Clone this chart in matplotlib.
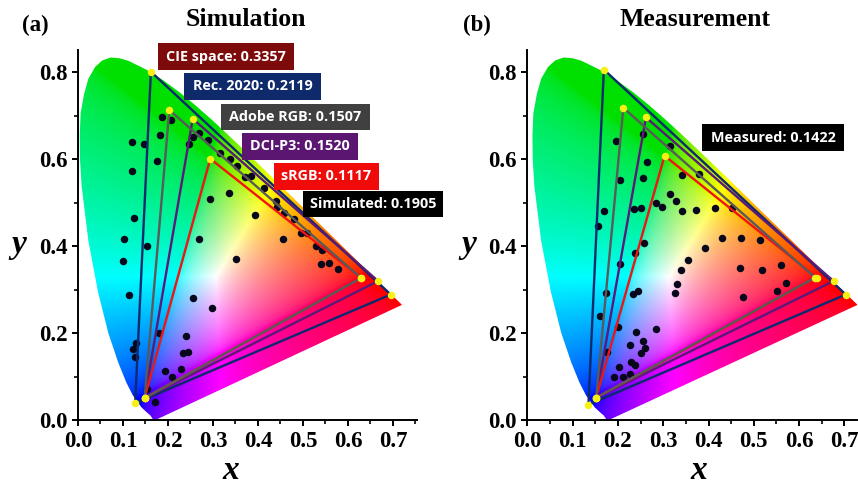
import matplotlib
matplotlib.use('Agg')
import matplotlib.pyplot as plt
import numpy as np
from matplotlib.patches import Polygon, Rectangle

W = 858
H = 487

# CIE 1931 spectral locus
locus_x = [.1741, .1733, .1714, .1644, .1566, .1440, .1241, .1096, .0913, .0687, .0454, .0235, .0082, .0045, .0039,
           .0060, .0139, .0235, .0389, .0551, .0743, .0943, .1142, .1547, .1929, .2296, .2658, .3016, .3373, .3731,
           .4087, .4441, .4788, .5125, .5448, .5752, .6029, .6270, .6658, .6915, .7079, .7190, .7260, .7347]
locus_y = [.0000, .0000, .0000, .0109, .0177, .0297, .0578, .0868, .1327, .2007, .2950, .4127, .5384, .6000, .6548,
           .7060, .7502, .7850, .8120, .8270, .8338, .8320, .8262, .8059, .7816, .7543, .7243, .6923, .6589, .6245,
           .5896, .5547, .5202, .4866, .4544, .4242, .3965, .3725, .3340, .3083, .2920, .2809, .2740, .2653]

# dots, panel a
sim_x = [.186, .207, .182, .119, .147, .246, .256, .268, .289, .315, .338, .354, .372, .384, .414, .440, .443,
         .458, .481, .496, .509, .529, .175, .119, .293, .335, .394, .124, .102, .153, .268, .455, .100, .113,
         .352, .539, .557, .577, .543, .255, .297, .179, .239, .129, .123, .127, .234, .244, .193, .229, .208,
         .171, .153]
sim_y = [.698, .689, .655, .639, .634, .636, .650, .660, .644, .614, .600, .585, .558, .562, .533, .505, .491,
         .477, .462, .431, .430, .401, .595, .572, .509, .522, .471, .464, .416, .401, .416, .416, .366, .287,
         .370, .359, .362, .348, .392, .280, .258, .200, .193, .177, .163, .146, .154, .158, .113, .119, .099,
         .042, .072]

# dots, panel b
meas_x = [.255, .196, .315, .264, .380, .341, .255, .204, .316, .329, .283, .298, .251, .236, .170, .341, .373,
          .414, .452, .157, .429, .472, .514, .257, .392, .238, .355, .204, .340, .469, .517, .561, .331, .325,
          .571, .551, .477, .245, .234, .174, .160, .201, .241, .285, .255, .227, .260, .251, .175, .230, .238,
          .202, .227, .191, .211]
meas_y = [.658, .643, .631, .593, .567, .564, .556, .552, .520, .503, .500, .490, .488, .485, .482, .480, .483,
          .488, .488, .447, .418, .418, .415, .408, .395, .385, .369, .359, .346, .351, .345, .357, .314, .293,
          .316, .297, .283, .298, .290, .293, .240, .214, .203, .209, .182, .173, .167, .155, .158, .133, .127,
          .123, .106, .099, .099]

# gamut triangles, (R, G, B) vertices
sim_rec2020 = [(.695, .289), (.162, .801), (.127, .039)]
sim_adobe = [(.629, .327), (.203, .713), (.148, .051)]
sim_p3 = [(.667, .320), (.255, .693), (.148, .051)]
sim_srgb = [(.629, .327), (.294, .601), (.148, .051)]

meas_rec2020 = [(.703, .289), (.169, .806), (.135, .036)]
meas_adobe = [(.635, .328), (.212, .718), (.152, .052)]
meas_p3 = [(.676, .320), (.262, .696), (.152, .052)]
meas_srgb = [(.639, .328), (.303, .608), (.152, .052)]

x_ticks = [0.0, 0.1, 0.2, 0.3, 0.4, 0.5, 0.6, 0.7]
y_ticks = [0.0, 0.2, 0.4, 0.6, 0.8]

labels_a = ['CIE space: 0.3357', 'Rec. 2020: 0.2119', 'Adobe RGB: 0.1507', 'DCI-P3: 0.1520', 'sRGB: 0.1117',
            'Simulated: 0.1905']
labels_b = ['Measured: 0.1422']

NAVY = '#0c2a6e'
GREY = '#5a5a5a'
PURPLE = '#5a1a78'
RED = '#f01414'
SERIF = 'Liberation Serif'

plt.rcParams['font.family'] = SERIF
plt.rcParams['font.weight'] = 'bold'

fig = plt.figure(figsize=(W / 100, H / 100), dpi=100)


def fx(px):
    return px / W


def fy(px):
    return 1 - px / H


def gamut_image(ax, scale, shift):
    # chromaticity colours, normalised to the brightest channel
    xs = np.linspace(0, 0.76, 500)
    ys = np.linspace(0, 0.86, 500)
    gx, gy = np.meshgrid(xs, ys)
    cx = (gx - shift) / scale
    cy = np.maximum(gy, 0.002)
    X = cx / cy
    Y = np.ones_like(cx)
    Z = (1 - cx - cy) / cy
    r = 3.2406 * X - 1.5372 * Y - 0.4986 * Z
    g = -0.9689 * X + 1.8758 * Y + 0.0415 * Z
    b = 0.0557 * X - 0.2040 * Y + 1.0570 * Z
    rgb = np.clip(np.dstack([r, g, b]), 0, None)
    rgb = rgb / rgb.max(axis=2, keepdims=True)
    rgb = rgb ** (1 / 2.0)
    # green corner of the reference is a bit darker than pure green
    rgb[:, :, 1] *= 1 - 0.12 * (1 - rgb[:, :, [0, 2]].max(axis=2))
    im = ax.imshow(rgb, origin='lower', extent=(0, 0.76, 0, 0.86), aspect='auto', zorder=1,
                   interpolation='bilinear')
    pts = np.column_stack([np.array(locus_x) * scale + shift, locus_y])
    poly = Polygon(pts, closed=True, transform=ax.transData, fc='none', ec='none')
    ax.add_patch(poly)
    im.set_clip_path(poly)


def draw_panel(rect, xmax, scale, shift, dots, triangles):
    left, right = rect
    top = 50
    bottom = 420.3
    ax = fig.add_axes([fx(left), fy(bottom), (right - left) / W, (bottom - top) / H])
    gamut_image(ax, scale, shift)
    ax.plot(dots[0], dots[1], 'o', color='#08081c', ms=5.4, mew=0, zorder=2)
    colors = [NAVY, PURPLE, RED, GREY]
    for tri, c in zip(triangles, colors):
        px = [p[0] for p in tri] + [tri[0][0]]
        py = [p[1] for p in tri] + [tri[0][1]]
        ax.plot(px, py, color=c, lw=1.7, zorder=3, solid_joinstyle='miter')
    for tri in triangles:
        ax.plot([p[0] for p in tri], [p[1] for p in tri], 'o', color='#f6f014', ms=5.4, mew=0, zorder=4,
                clip_on=False)
    ax.set_xlim(0, xmax)
    ax.set_ylim(0, 0.851)
    ax.spines['top'].set_visible(False)
    ax.spines['right'].set_visible(False)
    ax.spines['left'].set_linewidth(1.4)
    ax.spines['bottom'].set_linewidth(1.4)
    ax.set_xticks(x_ticks)
    ax.set_xticklabels(['%.1f' % v for v in x_ticks])
    ax.set_yticks(y_ticks)
    ax.set_yticklabels(['%.1f' % v for v in y_ticks])
    ax.set_xticks([v + 0.05 for v in x_ticks if v + 0.05 < xmax], minor=True)
    ax.set_yticks([0.1, 0.3, 0.5, 0.7], minor=True)
    ax.tick_params(which='major', length=4.5, width=1.4, labelsize=16.5, pad=3)
    ax.tick_params(which='minor', length=3, width=1.2)
    return ax


ax_a = draw_panel((78, 416.7), 0.7527, 0.98, 0.0, (sim_x, sim_y),
                  [sim_rec2020, sim_p3, sim_srgb, sim_adobe])
ax_b = draw_panel((527.3, 857), 0.7278, 0.982, 0.0075, (meas_x, meas_y),
                  [meas_rec2020, meas_p3, meas_srgb, meas_adobe])

for ax, xpx, ypx in [(ax_a, 231, 479), (ax_b, 699, 479)]:
    ax.set_xlabel('x', fontsize=24, style='italic', weight='bold', va='baseline')
    ax.xaxis.set_label_coords(fx(xpx), fy(ypx), transform=fig.transFigure)

for ax, xpx, ypx in [(ax_a, 19, 244), (ax_b, 469, 244)]:
    ax.set_ylabel('y', fontsize=24, style='italic', weight='bold', rotation=0, ha='center', va='center')
    ax.yaxis.set_label_coords(fx(xpx), fy(ypx), transform=fig.transFigure)

fig.text(fx(246), fy(20), 'Simulation', fontsize=18.5, ha='center', va='center')
fig.text(fx(695), fy(20), 'Measurement', fontsize=18.5, ha='center', va='center')
fig.text(fx(35.5), fy(25), '(a)', fontsize=16.5, ha='center', va='center')
fig.text(fx(477), fy(25), '(b)', fontsize=16.5, ha='center', va='center')

boxes_a = [(158, 294, 43, 70, '#7d0b0b'), (184, 321, 73, 100, '#0f2a6b'), (221, 370, 104, 130, '#404040'),
           (242, 358, 133, 160, '#5a1670'), (274, 379, 163, 190, '#f00a0a'), (303, 443, 191, 217, '#000000')]
boxes_b = [(702, 844, 124, 151, '#000000')]

for (x0, x1, y0, y1, c), s in zip(boxes_a + boxes_b, labels_a + labels_b):
    fig.add_artist(Rectangle((fx(x0), fy(y1)), (x1 - x0) / W, (y1 - y0) / H, transform=fig.transFigure,
                             fc=c, ec='none', zorder=5))
    fig.text(fx((x0 + x1) / 2), fy((y0 + y1) / 2), s, color='white', fontsize=10.4, family='Open Sans',
             weight='bold', ha='center', va='center', zorder=6)

fig.savefig('out.png', dpi=100, facecolor='white')
